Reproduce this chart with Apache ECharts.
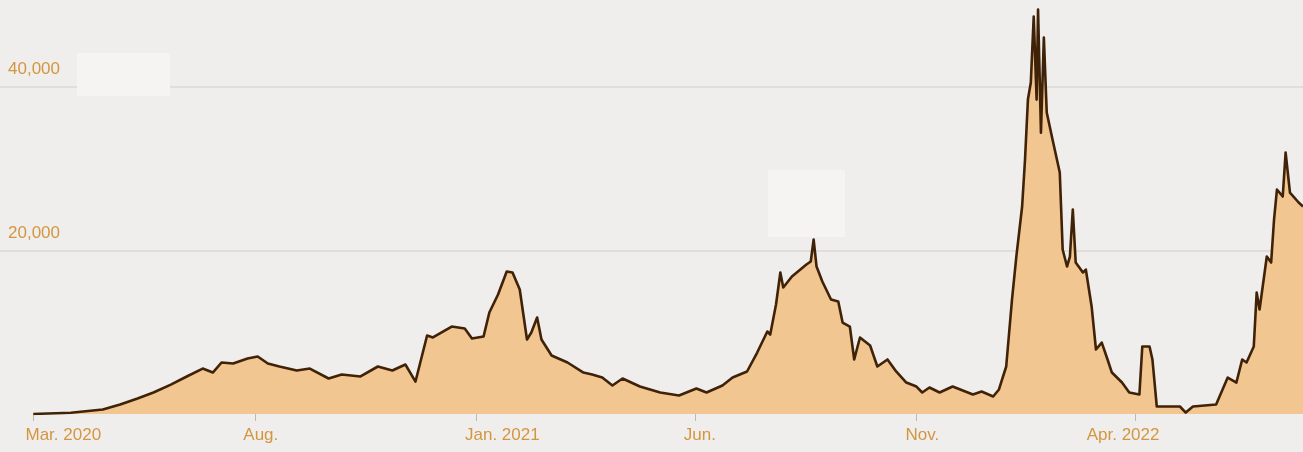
<!DOCTYPE html>
<html>
<head>
<meta charset="utf-8">
<script src="https://cdn.jsdelivr.net/npm/echarts@6/dist/echarts.min.js"></script>
<style>
  html, body { margin: 0; padding: 0; background: #f0eeec; }
  #chart { width: 1303px; height: 452px; }
</style>
</head>
<body>
<div id="chart"></div>
<script>
// ---- data ----
const dates = [
  '2020-03-01','2020-03-27','2020-04-18','2020-04-30','2020-05-12','2020-05-23','2020-06-04','2020-06-15',
  '2020-06-26','2020-07-03','2020-07-09','2020-07-17','2020-07-27','2020-08-03','2020-08-10','2020-08-18',
  '2020-08-30','2020-09-08','2020-09-21','2020-09-30','2020-10-13','2020-10-25','2020-11-04','2020-11-13',
  '2020-11-20','2020-11-28','2020-12-02','2020-12-15','2020-12-24','2020-12-29','2021-01-06','2021-01-10',
  '2021-01-16','2021-01-22','2021-01-26','2021-01-31','2021-02-05','2021-02-08','2021-02-12','2021-02-15',
  '2021-02-22','2021-03-05','2021-03-16','2021-03-22','2021-03-29','2021-04-05','2021-04-12','2021-04-24',
  '2021-05-08','2021-05-21','2021-06-02','2021-06-09','2021-06-20','2021-06-27','2021-07-07','2021-07-14',
  '2021-07-21','2021-07-23','2021-07-27','2021-07-30','2021-08-01','2021-08-07','2021-08-17','2021-08-20',
  '2021-08-22','2021-08-24','2021-08-28','2021-09-03','2021-09-08','2021-09-11','2021-09-16','2021-09-19',
  '2021-09-23','2021-09-30','2021-10-05','2021-10-12','2021-10-18','2021-10-25','2021-11-01','2021-11-05',
  '2021-11-10','2021-11-17','2021-11-26','2021-12-03','2021-12-10','2021-12-16','2021-12-24','2021-12-28',
  '2022-01-02','2022-01-06','2022-01-09','2022-01-13','2022-01-15','2022-01-17','2022-01-19','2022-01-21',
  '2022-01-23','2022-01-24','2022-01-26','2022-01-28','2022-01-30','2022-02-03','2022-02-08','2022-02-10',
  '2022-02-13','2022-02-15','2022-02-17','2022-02-19','2022-02-24','2022-02-26','2022-03-02','2022-03-05',
  '2022-03-09','2022-03-13','2022-03-16','2022-03-23','2022-03-28','2022-04-04','2022-04-06','2022-04-11',
  '2022-04-13','2022-04-16','2022-04-23','2022-05-02','2022-05-06','2022-05-11','2022-05-27','2022-06-04',
  '2022-06-10','2022-06-14','2022-06-17','2022-06-22','2022-06-24','2022-06-26','2022-07-01','2022-07-04',
  '2022-07-06','2022-07-08','2022-07-12','2022-07-14','2022-07-17','2022-07-23','2022-07-26'
];
const cases = [
  0, 150, 550, 1160, 1900, 2630, 3600, 4590,
  5560, 5070, 6300, 6180, 6790, 7030, 6180, 5810,
  5320, 5560, 4340, 4830, 4590, 5810, 5320, 6050,
  3970, 9600, 9360, 10700, 10460, 9230, 9480, 12410,
  14620, 17430, 17310, 15230, 9110, 9970, 11800, 9110,
  7150, 6300, 5070, 4830, 4460, 3490, 4340, 3360,
  2630, 2260, 3120, 2630, 3490, 4460, 5200, 7520,
  10090, 9720, 13390, 17310, 15470, 16820, 18280, 18650,
  21340, 18040, 16200, 14000, 13760, 11190, 10700, 6670,
  9360, 8380, 5810, 6670, 5200, 3850, 3360, 2630,
  3240, 2630, 3360, 2870, 2380, 2750, 2140, 3000,
  5810, 14000, 19260, 25380, 31130, 38460, 40540, 48610,
  38460, 49480, 34420, 46050, 36870, 33570, 29530, 20120,
  18040, 19260, 25010, 18530, 17310, 17670, 13150, 7890,
  8740, 6670, 5070, 3850, 2630, 2380, 8260, 8260,
  6670, 920, 920, 920, 180, 920, 1160, 4460,
  3850, 6670, 6300, 8260, 14860, 12780, 19260, 18530,
  23790, 27460, 26600, 31980, 27090, 25870, 25380
];
const tickDates = ['2020-03-01','2020-08-01','2021-01-01','2021-06-01','2021-11-01','2022-04-01'];
const tickLabels = ['Mar. 2020','Aug.','Jan. 2021','Jun.','Nov.','Apr. 2022'];
const yTickValues = [20000, 40000];
const yTickLabels = ['20,000', '40,000'];
const axisStart = '2020-02-07';
const axisEnd = '2022-07-26';

// ---- helpers / styling ----
function ts(s) { const p = s.split('-').map(Number); return Date.UTC(p[0], p[1] - 1, p[2]); }
const seriesData = dates.map((d, i) => [ts(d), cases[i]]);
const tickTs = tickDates.map(ts);

const FONT = "'Liberation Sans Narrow', 'Liberation Sans', Arial, sans-serif";
const LABEL_COLOR = '#d39640';
const FS = 17;
// horizontal nudge (px) of each x label relative to its tick
const labelNudge = [30, 6, 26, 5, 6, -12];

const rich = {};
labelNudge.forEach((n, i) => {
  rich['l' + i] = {
    fontFamily: FONT, fontSize: FS, color: LABEL_COLOR,
    padding: n >= 0 ? [0, 0, 0, 2 * n] : [0, -2 * n, 0, 0]
  };
});

const chart = echarts.init(document.getElementById('chart'), null, { renderer: 'canvas' });
chart.setOption({
  backgroundColor: '#f0eeec',
  animation: false,
  grid: { left: 0, right: 0, top: 0, bottom: 38, containLabel: false },
  xAxis: {
    type: 'value',
    min: ts(axisStart),
    max: ts(axisEnd),
    axisLine: { show: false },
    axisTick: { show: true, customValues: tickTs, length: 7, lineStyle: { color: '#bdb9b4', width: 1 } },
    splitLine: { show: false },
    axisLabel: {
      customValues: tickTs,
      margin: 13,
      fontFamily: FONT,
      fontSize: FS,
      color: LABEL_COLOR,
      formatter: function (v) {
        const i = tickTs.indexOf(v);
        if (i < 0) return '';
        return '{l' + i + '|' + tickLabels[i] + '}';
      },
      rich: rich
    }
  },
  yAxis: {
    type: 'value',
    min: 0,
    max: 50640,
    interval: 20000,
    axisLine: { show: false },
    axisTick: { show: false },
    splitLine: { show: true, lineStyle: { color: ['rgba(0,0,0,0)', '#dbd8d4', '#dbd8d4', 'rgba(0,0,0,0)'], width: 1.5 } },
    axisLabel: {
      inside: true,
      margin: 8,
      verticalAlign: 'bottom',
      padding: [0, 0, 9, 0],
      fontFamily: FONT,
      fontSize: FS,
      color: LABEL_COLOR,
      showMinLabel: false,
      showMaxLabel: false,
      formatter: function (v) {
        const i = yTickValues.indexOf(v);
        return i >= 0 ? yTickLabels[i] : '';
      }
    }
  },
  series: [{
    type: 'line',
    data: seriesData,
    showSymbol: false,
    symbol: 'none',
    smooth: false,
    lineStyle: { color: '#3f2207', width: 2.6, join: 'round' },
    areaStyle: { color: '#f1c690', opacity: 1 },
    z: 3
  }],
  graphic: [
    { type: 'rect', z: 100, shape: { x: 77, y: 53, width: 93, height: 43 }, style: { fill: '#f5f4f3' } },
    { type: 'rect', z: 100, shape: { x: 768, y: 170, width: 77, height: 67 }, style: { fill: '#f5f4f3' } }
  ]
});
</script>
</body>
</html>
